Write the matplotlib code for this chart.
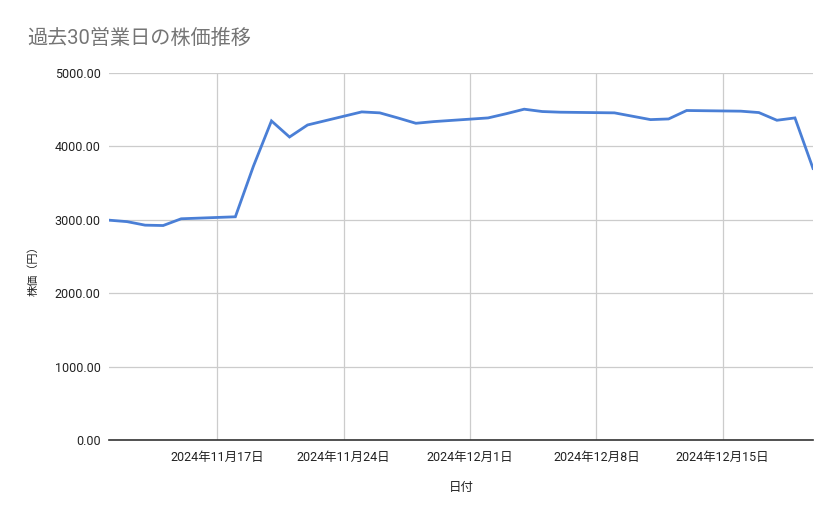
import matplotlib
matplotlib.use("Agg")
import matplotlib.pyplot as plt
from matplotlib.ticker import FuncFormatter, FixedLocator
import datetime as dt

plt.rcParams['font.family'] = ['Roboto', 'Noto Sans CJK JP', 'DejaVu Sans']

dates = [
    "2024-11-11", "2024-11-12", "2024-11-13", "2024-11-14", "2024-11-15",
    "2024-11-18", "2024-11-19", "2024-11-20", "2024-11-21", "2024-11-22",
    "2024-11-25", "2024-11-26", "2024-11-27", "2024-11-28", "2024-11-29",
    "2024-12-02", "2024-12-03", "2024-12-04", "2024-12-05", "2024-12-06",
    "2024-12-09", "2024-12-10", "2024-12-11", "2024-12-12", "2024-12-13",
    "2024-12-16", "2024-12-17", "2024-12-18", "2024-12-19", "2024-12-20",
]
prices = [
    2995, 2975, 2927, 2922, 3014,
    3041, 3730, 4347, 4128, 4292,
    4470, 4457, 4388, 4315, 4338,
    4388, 4445, 4507, 4475, 4466,
    4457, 4411, 4365, 4374, 4489,
    4480, 4461, 4356, 4388, 3700,
]
tick_dates = ["2024-11-17", "2024-11-24", "2024-12-01", "2024-12-08", "2024-12-15"]
y_ticks = [0, 1000, 2000, 3000, 4000, 5000]

title = "過去30営業日の株価推移"
x_label = "日付"
y_label = "株価（円）"

W, H = 839, 519
fig = plt.figure(figsize=(W / 100, H / 100), dpi=100)
ax = fig.add_axes([109 / W, (H - 440) / H, (813 - 109) / W, (440 - 73) / H])

xd = [dt.datetime.strptime(d, "%Y-%m-%d") for d in dates]
ax.plot(xd, prices, color="#4a7fd6", lw=2, solid_joinstyle="miter")

ax.set_xlim(xd[0], xd[-1])
ax.set_ylim(0, 5000)
ax.yaxis.set_major_locator(FixedLocator(y_ticks))
ax.yaxis.set_major_formatter(FuncFormatter(lambda v, p: f"{v:.2f}"))

tds = [dt.datetime.strptime(d, "%Y-%m-%d") for d in tick_dates]
ax.set_xticks(tds)
ax.set_xticklabels([f"{d.year}年{d.month}月{d.day}日" for d in tds])

ax.grid(True, color="#cccccc", lw=0.9)
ax.set_axisbelow(True)
for s in ["top", "right", "left"]:
    ax.spines[s].set_visible(False)
ax.spines["bottom"].set_color("#333333")
ax.spines["bottom"].set_linewidth(1.2)
ax.spines["bottom"].set_zorder(3)
ax.tick_params(length=0, labelsize=9, colors="#222222")
ax.tick_params(axis="y", pad=6)
ax.tick_params(axis="x", pad=8)

fig.text(27 / W, 1 - 38 / H, title, fontsize=14.5, color="#757575", va="center", ha="left")
fig.text(33 / W, 1 - 268 / H, y_label, fontsize=8, color="#222222", rotation=90,
         va="center", ha="center", family=['Noto Sans CJK JP', 'DejaVu Sans'])
fig.text(461 / W, 1 - 487 / H, x_label, fontsize=9, color="#222222", va="center", ha="center")

fig.savefig("out.png", dpi=100, facecolor="white")
